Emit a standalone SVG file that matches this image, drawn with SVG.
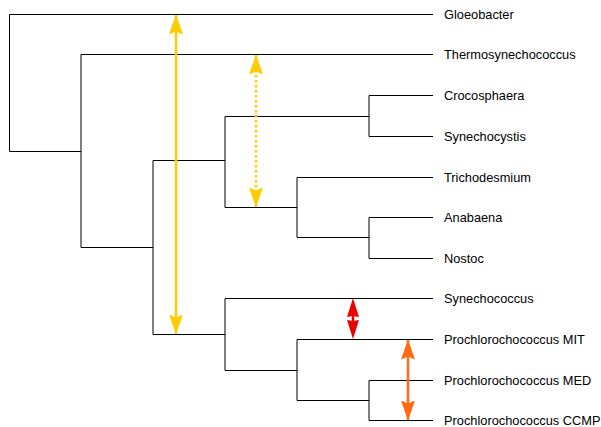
<svg xmlns="http://www.w3.org/2000/svg" width="601" height="427" viewBox="0 0 601 427">
  <style>
    .br { fill: none; stroke: #000; stroke-width: 1; }
    .lbl { font-family: "Liberation Sans", Arial, sans-serif; font-size: 12.8px; fill: #000; }
    .gold { stroke: #ffcc00; stroke-width: 2.5; fill: none; }
    .gold-dot { stroke: #ffcc00; stroke-width: 2.5; fill: none; stroke-dasharray: 2.5 2.5; }
    .orange { stroke: #ff6a10; stroke-width: 2.5; fill: none; }
    .red { stroke: #ee0000; stroke-width: 2.5; fill: none; }
  </style>
  <defs>
    <marker id="hGold" viewBox="0 0 20 14" refX="19.5" refY="7" markerWidth="20" markerHeight="14" markerUnits="userSpaceOnUse" orient="auto-start-reverse">
      <path d="M0,0 L20,7 L0,14 L3,7 Z" fill="#ffcc00"/>
    </marker>
    <marker id="hOrange" viewBox="0 0 20 14" refX="19.5" refY="7" markerWidth="20" markerHeight="14" markerUnits="userSpaceOnUse" orient="auto-start-reverse">
      <path d="M0,0 L20,7 L0,14 L3,7 Z" fill="#ff6a10"/>
    </marker>
  </defs>
  <rect width="601" height="427" fill="#fff"/>

  <!-- tree branches -->
  <g id="tree" class="br">
    <path d="M9.5,14.5 H433 M9.5,14.5 V151.5 H81"/>
    <path d="M81,54.5 H433 M81,54.5 V247.5 M81,247.5 H153"/>
    <path d="M153,160.5 V334.5 M153,160.5 H225 M153,334.5 H225"/>
    <path d="M225,116.5 V207.5 M225,116.5 H369 M225,207.5 H297"/>
    <path d="M369,95.5 V136.5 M369,95.5 H433 M369,136.5 H433"/>
    <path d="M297,177.5 V237.5 M297,177.5 H433 M297,237.5 H369"/>
    <path d="M369,217.5 V258.5 M369,217.5 H433 M369,258.5 H433"/>
    <path d="M225,298.5 V370.5 M225,298.5 H433 M225,370.5 H297"/>
    <path d="M297,339.5 V400.5 M297,339.5 H433 M297,400.5 H369"/>
    <path d="M369,380.5 V420.5 M369,380.5 H433 M369,420.5 H433"/>
  </g>

  <!-- leaf labels -->
  <g id="labels">
    <text class="lbl" x="444" y="19">Gloeobacter</text>
    <text class="lbl" x="444" y="59">Thermosynechococcus</text>
    <text class="lbl" x="444" y="100">Crocosphaera</text>
    <text class="lbl" x="444" y="141">Synechocystis</text>
    <text class="lbl" x="444" y="182">Trichodesmium</text>
    <text class="lbl" x="444" y="222">Anabaena</text>
    <text class="lbl" x="444" y="263">Nostoc</text>
    <text class="lbl" x="444" y="303">Synechococcus</text>
    <text class="lbl" x="444" y="344">Prochlorochococcus MIT</text>
    <text class="lbl" x="444" y="385">Prochlorochococcus MED</text>
    <text class="lbl" x="444" y="425">Prochlorochococcus CCMP</text>
  </g>

  <!-- double-headed connectors -->
  <g id="connectors">
    <line class="gold" x1="176" y1="15" x2="176" y2="334" marker-start="url(#hGold)" marker-end="url(#hGold)"/>
    <line class="gold-dot" x1="256" y1="55" x2="256" y2="207" marker-start="url(#hGold)" marker-end="url(#hGold)"/>
    <line class="orange" x1="408" y1="340" x2="408" y2="420" marker-start="url(#hOrange)" marker-end="url(#hOrange)"/>
    <g id="red-arrow">
      <line class="red" x1="353" y1="312" x2="353" y2="325"/>
      <path d="M353,298 L359,317 L353,316 L347,317 Z" fill="#ee0000"/>
      <path d="M353,339 L359,320 L353,321 L347,320 Z" fill="#ee0000"/>
    </g>
  </g>
</svg>
